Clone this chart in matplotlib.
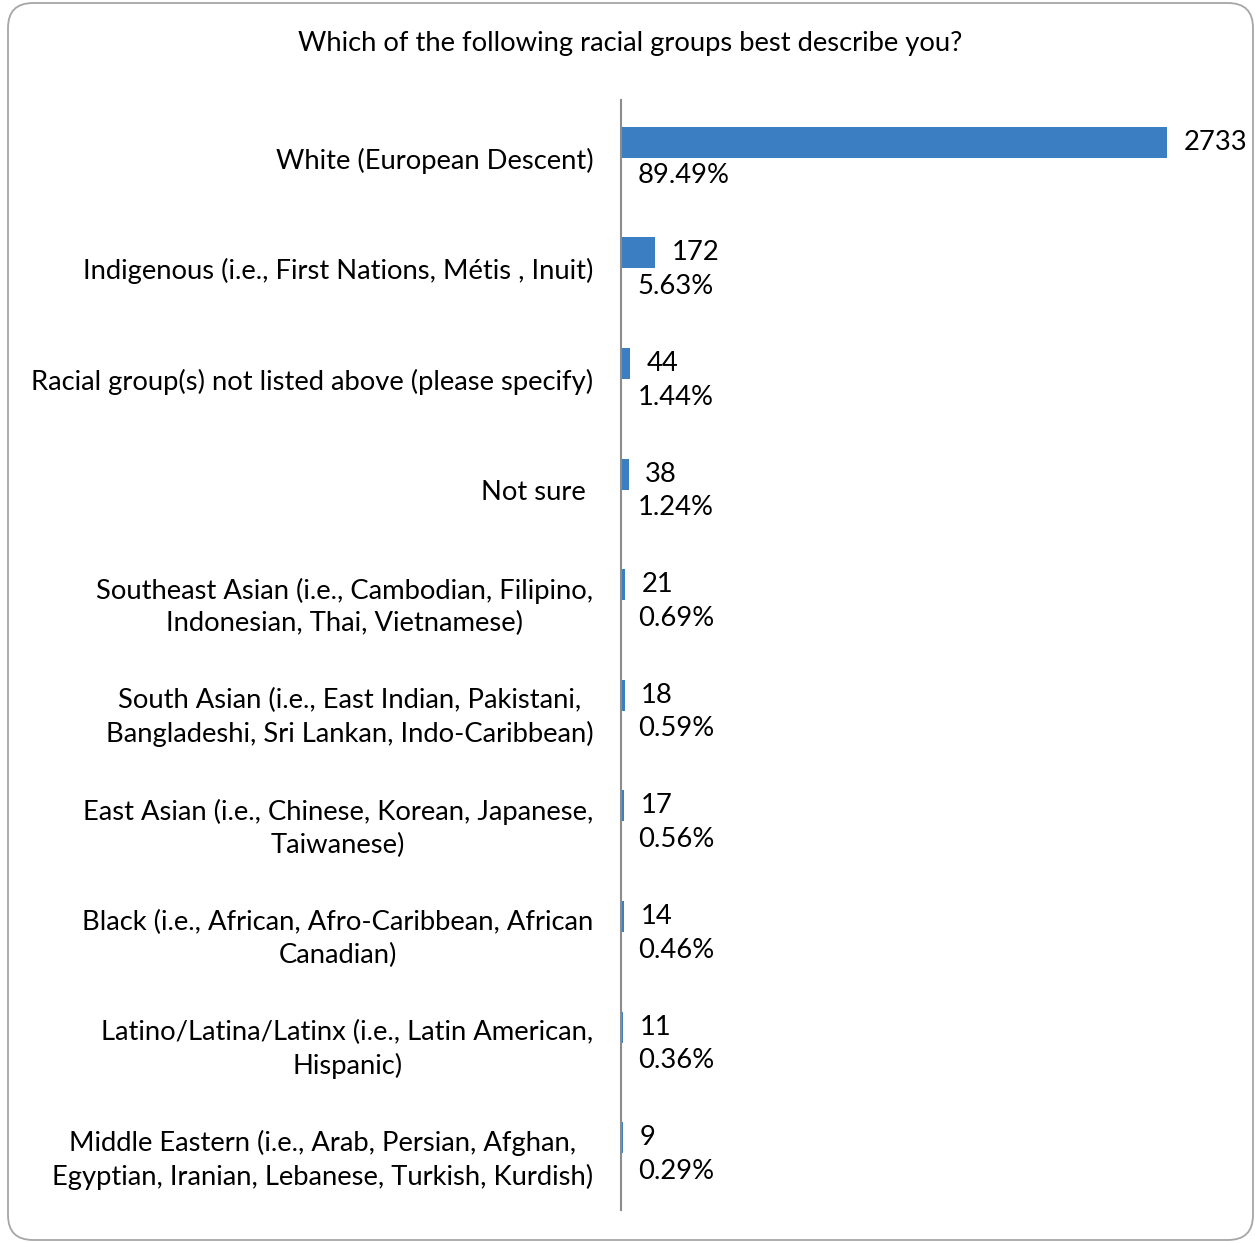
import matplotlib
matplotlib.use("Agg")
import matplotlib.pyplot as plt
from matplotlib.patches import FancyBboxPatch

plt.rcParams["font.family"] = ["Lato", "DejaVu Sans"]

TITLE = "Which of the following racial groups best describe you?"

categories = [
    "White (European Descent)",
    "Indigenous (i.e., First Nations, Métis , Inuit)",
    "Racial group(s) not listed above (please specify)",
    "Not sure ",
    "Southeast Asian (i.e., Cambodian, Filipino,\nIndonesian, Thai, Vietnamese)",
    "South Asian (i.e., East Indian, Pakistani,\nBangladeshi, Sri Lankan, Indo-Caribbean)",
    "East Asian (i.e., Chinese, Korean, Japanese,\nTaiwanese)",
    "Black (i.e., African, Afro-Caribbean, African\nCanadian)",
    "Latino/Latina/Latinx (i.e., Latin American,\nHispanic)",
    "Middle Eastern (i.e., Arab, Persian, Afghan,\nEgyptian, Iranian, Lebanese, Turkish, Kurdish)",
]
counts = [2733, 172, 44, 38, 21, 18, 17, 14, 11, 9]
percents = [89.49, 5.63, 1.44, 1.24, 0.69, 0.59, 0.56, 0.46, 0.36, 0.29]

BLUE = "#3b7fc2"
W, H = 1255, 1243
FS = 19.7


def main():
    fig = plt.figure(figsize=(W / 100, H / 100), dpi=100)
    fig.patch.set_facecolor("white")

    # rounded frame around the whole chart
    frame = FancyBboxPatch((8 / W, 3 / H), (W - 10) / W, (H - 6) / H,
                           boxstyle="round,pad=0,rounding_size=0.02",
                           transform=fig.transFigure, fill=False,
                           edgecolor="#a6a6a6", linewidth=1.3)
    fig.patches.append(frame)

    fig.text(630 / W, 1 - 44 / H, TITLE, ha="center", va="center", fontsize=FS)

    ax = fig.add_axes([621 / W, 34 / H, (1167 - 621) / W, 1106 / H])
    y = list(range(len(categories)))
    y_count = [v - 0.145 for v in y]
    y_pct = [v + 0.16 for v in y]

    ax.barh(y_count, counts, height=0.28, color=BLUE)
    # second series: share of respondents, tiny on the count scale
    pct_bars = ax.barh(y_pct, [p / 100 for p in percents], height=0.28, color=BLUE)

    for yc, c in zip(y_count, counts):
        ax.annotate(str(c), (c, yc), xytext=(12, 0), textcoords="offset points",
                    va="center", ha="left", fontsize=FS, annotation_clip=False)
    for bar, p in zip(pct_bars, percents):
        ax.annotate(f"{p:.2f}%", (bar.get_width(), bar.get_y() + bar.get_height() / 2),
                    xytext=(12, 0), textcoords="offset points",
                    va="center", ha="left", fontsize=FS, annotation_clip=False)

    ax.set_xlim(0, 2733)
    ax.set_ylim(len(categories) - 0.5, -0.5)
    ax.set_yticks(y)
    ax.set_yticklabels(categories, fontsize=FS, multialignment="center",
                       linespacing=1.38)
    ax.tick_params(axis="y", length=0, pad=20)
    ax.set_xticks([])
    for side in ["top", "right", "bottom"]:
        ax.spines[side].set_visible(False)
    ax.spines["left"].set_color("#8c8c8c")
    ax.spines["left"].set_linewidth(1.5)
    ax.spines["left"].set_bounds(-0.5 - 3 / 110.6, 9.5 + 1 / 110.6)
    ax.patch.set_visible(False)

    fig.savefig("out.png", dpi=100)


if __name__ == "__main__":
    main()
